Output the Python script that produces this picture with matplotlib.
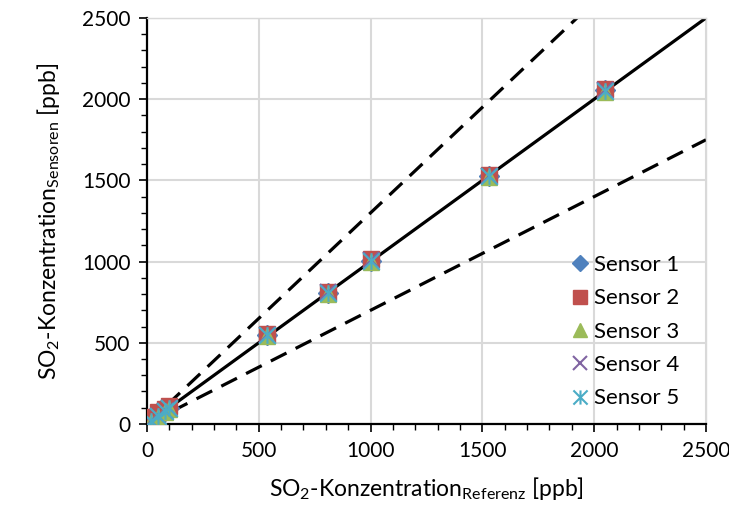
import matplotlib
matplotlib.use("Agg")
import matplotlib.pyplot as plt
from matplotlib.path import Path
from matplotlib.ticker import MultipleLocator

plt.rcParams["font.family"] = ["Lato", "DejaVu Sans"]
plt.rcParams["mathtext.fontset"] = "custom"
plt.rcParams["mathtext.rm"] = "Lato"
plt.rcParams["mathtext.default"] = "regular"

# reference concentration [ppb] and sensor readings [ppb]
referenz = [20, 50, 80, 100, 535, 810, 1000, 1530, 2050]
sensor_1 = [18, 48, 78, 98, 545, 805, 1005, 1525, 2055]
sensor_2 = [45, 75, 95, 110, 555, 815, 1015, 1535, 2062]
sensor_3 = [15, 45, 75, 95, 540, 800, 1000, 1520, 2045]
sensor_4 = [20, 50, 80, 100, 550, 810, 1010, 1530, 2055]
sensor_5 = [20, 50, 80, 100, 545, 805, 1005, 1525, 2050]
sensor_names = ["Sensor 1", "Sensor 2", "Sensor 3", "Sensor 4", "Sensor 5"]

# 1:1 line and +/-30 % band
line_x = [0, 2500]
slope_ideal = 1.0
slope_upper = 1.3
slope_lower = 0.7

# six-armed asterisk like the spreadsheet "star" marker
star = Path(
    [(-1, -1), (1, 1), (-1, 1), (1, -1), (0, -1), (0, 1)],
    [Path.MOVETO, Path.LINETO, Path.MOVETO, Path.LINETO, Path.MOVETO, Path.LINETO],
)

styles = [
    dict(marker="D", color="#4F81BD", ms=10),
    dict(marker="s", color="#C0504D", ms=12),
    dict(marker="^", color="#9BBB59", ms=12),
    dict(marker="x", color="#8064A2", ms=12, mew=1.5),
    dict(marker=star, color="#4BACC6", ms=12, mew=1.5),
]

fig = plt.figure(figsize=(7.29, 5.08), dpi=100)
ax = fig.add_axes([0.2016, 0.1654, 0.7668, 0.7992])

ax.plot(line_x, [slope_ideal * x for x in line_x], color="black", lw=2.3, zorder=2)
dash = (0, (5.5, 3.2))
ax.plot(line_x, [slope_upper * x for x in line_x], color="black", lw=2.3,
        linestyle=dash, zorder=2)
ax.plot(line_x, [slope_lower * x for x in line_x], color="black", lw=2.3,
        linestyle=dash, zorder=2)

for values, name, st in zip([sensor_1, sensor_2, sensor_3, sensor_4, sensor_5],
                            sensor_names, styles):
    ax.plot(referenz, values, linestyle="none", marker=st["marker"],
            markersize=st["ms"], color=st["color"],
            markeredgewidth=st.get("mew", 1.0), label=name, zorder=3)

ax.set_xlim(0, 2500)
ax.set_ylim(0, 2500)
ax.xaxis.set_major_locator(MultipleLocator(500))
ax.yaxis.set_major_locator(MultipleLocator(500))
ax.xaxis.set_minor_locator(MultipleLocator(100))
ax.yaxis.set_minor_locator(MultipleLocator(100))
ax.grid(True, which="major", color="#d9d9d9", lw=1.5)
ax.set_axisbelow(True)

for side in ["left", "bottom"]:
    ax.spines[side].set_linewidth(1.6)
for side in ["top", "right"]:
    ax.spines[side].set_linewidth(1.0)
    ax.spines[side].set_color("#d9d9d9")

ax.tick_params(which="major", direction="out", length=6, width=1.2,
               labelsize=15, pad=6)
ax.tick_params(which="minor", direction="out", length=4, width=1.0)

ax.set_xlabel(r"SO$_2$-Konzentration$_{Referenz}$ [ppb]", fontsize=16.5, labelpad=10)
ax.set_ylabel(r"SO$_2$-Konzentration$_{Sensoren}$ [ppb]", fontsize=16.5, labelpad=14)

leg = ax.legend(loc="lower right", bbox_to_anchor=(0.98, 0.0), frameon=False,
                fontsize=16, handletextpad=0.15, labelspacing=0.6,
                handlelength=1.0, borderaxespad=0.3, markerscale=0.85)

fig.savefig("out.png", dpi=100, facecolor="white")
